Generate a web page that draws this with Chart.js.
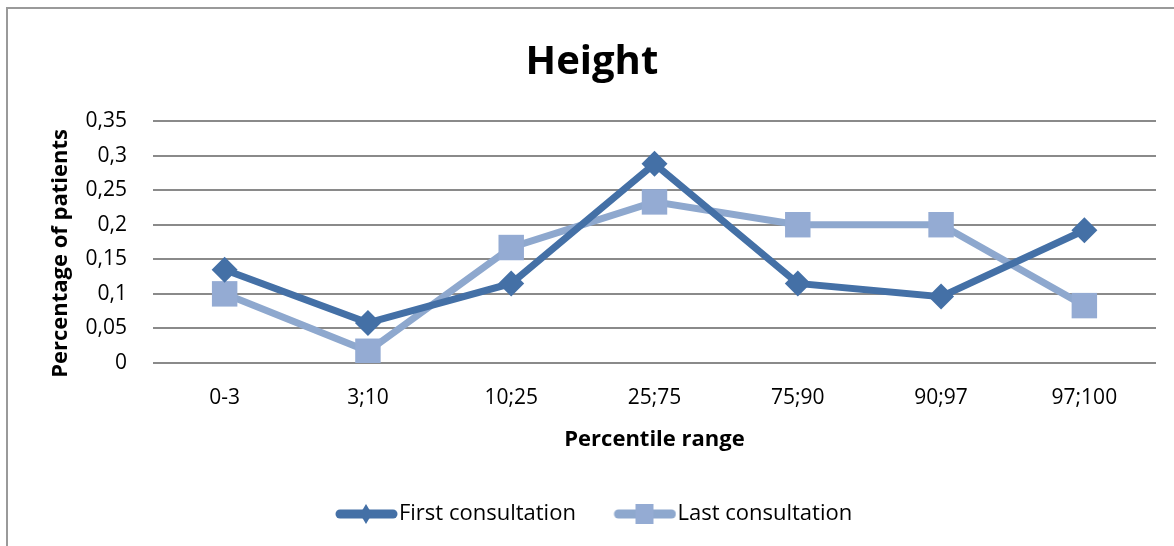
<!DOCTYPE html>
<html>
<head>
<meta charset="utf-8">
<script src="https://cdn.jsdelivr.net/npm/chart.js@4/dist/chart.umd.min.js"></script>
<style>
    body { margin: 0; background: #fff; }
    #frame {
        position: absolute; left: 6px; top: 7px; width: 1168px; height: 539px;
        border-left: 2px solid #9a9a9a; border-top: 2px solid #9a9a9a;
    }
    #wrap { position: absolute; left: 0; top: 0; width: 1174px; height: 546px; }
</style>
</head>
<body>
<div id="frame"></div>
<div id="wrap"><canvas id="heightChart"></canvas></div>
<script>
// Chart data
const categories = ['0-3', '3;10', '10;25', '25;75', '75;90', '90;97', '97;100'];
const firstConsultation = [0.135, 0.058, 0.115, 0.288, 0.115, 0.096, 0.192];
const lastConsultation = [0.100, 0.017, 0.167, 0.233, 0.200, 0.200, 0.083];
const yTickLabels = ['0', '0,05', '0,1', '0,15', '0,2', '0,25', '0,3', '0,35'];
const seriesNames = ['First consultation', 'Last consultation'];

const darkBlue = '#4470a6';
const lightBlue = '#8ea8ce';
const lightMarker = '#94abd3';
const fontFamily = '"Open Sans", "Noto Sans", sans-serif';

// legend icon: line with marker in the middle
function legendIcon(lineColor, markerColor, marker) {
    const c = document.createElement('canvas');
    c.width = 68;
    c.height = 24;
    const g = c.getContext('2d');
    g.strokeStyle = lineColor;
    g.lineWidth = 9;
    g.lineCap = 'round';
    g.beginPath();
    g.moveTo(10, 12);
    g.lineTo(63, 12);
    g.stroke();
    g.fillStyle = markerColor;
    if (marker === 'diamond') {
        g.beginPath();
        g.moveTo(36, 2);
        g.lineTo(42, 12);
        g.lineTo(36, 22);
        g.lineTo(30, 12);
        g.closePath();
        g.fill();
    } else {
        g.fillRect(27, 2, 18, 20);
    }
    return c;
}

const icons = [
    legendIcon(darkBlue, darkBlue, 'diamond'),
    legendIcon(lightBlue, lightMarker, 'square')
];

const ctx = document.getElementById('heightChart').getContext('2d');
new Chart(ctx, {
    type: 'line',
    data: {
        labels: categories,
        datasets: [{
            label: seriesNames[0],
            data: firstConsultation,
            borderColor: darkBlue,
            backgroundColor: darkBlue,
            borderWidth: 7,
            pointStyle: 'rectRot',
            pointRadius: 13,
            pointHoverRadius: 13,
            pointBorderWidth: 0,
            tension: 0
        }, {
            label: seriesNames[1],
            data: lastConsultation,
            borderColor: lightBlue,
            backgroundColor: lightMarker,
            borderWidth: 7,
            pointStyle: 'rect',
            pointRadius: 18,
            pointHoverRadius: 18,
            pointBorderWidth: 0,
            tension: 0
        }]
    },
    options: {
        responsive: true,
        maintainAspectRatio: false,
        animation: false,
        layout: { padding: { left: 48, right: 7, top: 0, bottom: 11 } },
        scales: {
            x: {
                offset: true,
                afterFit: scale => { scale.height = 126; },
                grid: { display: false, drawTicks: false },
                border: { display: false },
                ticks: { color: '#000', padding: 22, font: { family: fontFamily, size: 21 } },
                title: {
                    display: true,
                    text: 'Percentile range',
                    color: '#000',
                    padding: { top: 8, bottom: 36 },
                    font: { family: fontFamily, size: 22, weight: 'bold' }
                }
            },
            y: {
                min: 0,
                max: 0.35,
                afterFit: scale => { scale.width = 105; },
                grid: { color: '#8a8a8a', lineWidth: 2, drawTicks: false },
                border: { display: false },
                ticks: {
                    stepSize: 0.05,
                    color: '#000',
                    padding: 26,
                    font: { family: fontFamily, size: 21 },
                    callback: (value, index) => yTickLabels[index]
                },
                title: {
                    display: true,
                    // trailing spaces push the rotated text a little lower, as in the original
                    text: 'Percentage of patients    ',
                    color: '#000',
                    padding: 0,
                    font: { family: fontFamily, size: 22, weight: 'bold' }
                }
            }
        },
        plugins: {
            title: {
                display: true,
                // trailing spaces nudge the title left to sit where the original does
                text: 'Height   ',
                color: '#000',
                padding: { top: 39, bottom: 34 },
                font: { family: fontFamily, size: 40, weight: 'bold' }
            },
            legend: {
                position: 'bottom',
                labels: {
                    color: '#000',
                    usePointStyle: true,
                    pointStyleWidth: 48,
                    padding: 14,
                    font: { family: fontFamily, size: 22 },
                    // trailing spaces widen the gap between the entries and shift the row left
                    generateLabels: chart => chart.data.datasets.map((ds, i) => ({
                        text: ds.label + (i === 0 ? '     ' : '    '),
                        pointStyle: icons[i],
                        fillStyle: ds.borderColor,
                        strokeStyle: ds.borderColor,
                        lineWidth: 0,
                        fontColor: '#000',
                        datasetIndex: i
                    }))
                }
            },
            tooltip: { enabled: false }
        }
    }
});
</script>
</body>
</html>
